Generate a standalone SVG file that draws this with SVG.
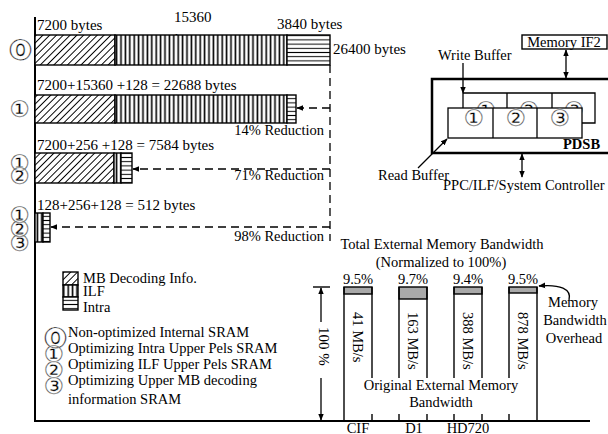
<svg xmlns="http://www.w3.org/2000/svg" width="608" height="434" viewBox="0 0 608 434">
<style>
.t{font-family:"Liberation Serif","Times New Roman",serif;font-size:14.5px;fill:#000}
.tb{font-family:"Liberation Serif","Times New Roman",serif;font-size:15px;fill:#000}
.b{font-weight:bold}
.c{font-family:"DejaVu Sans",sans-serif;font-size:23px;fill:#000;stroke:#fff;stroke-width:0.35px}
.ln{stroke:#000;stroke-width:1.3;fill:none}
.dash{stroke:#000;stroke-width:1.3;fill:none;stroke-dasharray:8 5}
.box{stroke:#000;stroke-width:1.4}
</style>
<defs>
<pattern id="diag" width="4.8" height="10" patternUnits="userSpaceOnUse" patternTransform="rotate(45)">
<rect width="4.8" height="10" fill="#fff"/>
<line x1="2.4" y1="0" x2="2.4" y2="10" stroke="#000" stroke-width="1"/>
</pattern>
<pattern id="vert" width="4.4" height="10" patternUnits="userSpaceOnUse">
<rect width="4.4" height="10" fill="#fff"/>
<line x1="2.2" y1="0" x2="2.2" y2="10" stroke="#000" stroke-width="1.6"/>
</pattern>
<pattern id="horz" width="10" height="4.2" patternUnits="userSpaceOnUse">
<rect width="10" height="4.2" fill="#fff"/>
<line x1="0" y1="2.1" x2="10" y2="2.1" stroke="#000" stroke-width="1"/>
</pattern>
<marker id="ah" viewBox="0 0 10 10" refX="9" refY="5" markerWidth="7" markerHeight="7" orient="auto-start-reverse" markerUnits="userSpaceOnUse">
<path d="M0,1 L10,5 L0,9 Z" fill="#000"/>
</marker>
</defs>
<rect width="608" height="434" fill="#fff"/>

<!-- axes -->
<g id="axes">
<line x1="35" y1="17" x2="35" y2="421" stroke="#000" stroke-width="2"/>
<line x1="34" y1="421" x2="590" y2="421" stroke="#000" stroke-width="2"/>
</g>

<!-- Bar 0 -->
<g id="bar0">
<text class="tb" x="174" y="22">15360</text>
<text class="tb" x="175" y="44">bytes</text>
<text class="tb" x="37" y="30">7200 bytes</text>
<text class="tb" x="277" y="29">3840 bytes</text>
<rect x="35" y="35" width="80" height="30" fill="url(#diag)" class="box"/>
<rect x="115" y="35" width="172" height="30" fill="url(#vert)" class="box"/>
<rect x="287" y="35" width="43" height="30" fill="url(#horz)" class="box"/>
<text class="tb" x="333" y="54">26400 bytes</text>
<text class="c" x="9.2" y="58.4">⓪</text>
</g>

<!-- Bar 1 -->
<g id="bar1">
<text class="tb" x="37" y="90">7200+15360 +128 = 22688 bytes</text>
<rect x="35" y="95" width="80" height="28" fill="url(#diag)" class="box"/>
<rect x="115" y="95" width="172" height="28" fill="url(#vert)" class="box"/>
<rect x="287" y="95" width="9" height="28" fill="url(#horz)" class="box"/>
<text class="c" x="9.2" y="117.4">①</text>
<text class="t" x="324" y="135" text-anchor="end">14% Reduction</text>
</g>

<!-- Bar 2 -->
<g id="bar2">
<text class="tb" x="37" y="150">7200+256 +128 = 7584 bytes</text>
<rect x="35" y="153" width="79" height="30" fill="url(#diag)" class="box"/>
<rect x="114" y="153" width="7" height="30" fill="url(#vert)" class="box"/>
<rect x="121" y="153" width="11" height="30" fill="url(#horz)" class="box"/>
<text class="c" x="9.2" y="170.9">①</text>
<text class="c" x="9.2" y="184.4">②</text>
<text class="t" x="324" y="180" text-anchor="end">71% Reduction</text>
</g>

<!-- Bar 3 -->
<g id="bar3">
<text class="tb" x="37" y="210">128+256+128 = 512 bytes</text>
<rect x="35" y="213" width="8" height="29" fill="url(#vert)" class="box"/>
<rect x="43" y="213" width="7" height="29" fill="url(#horz)" class="box"/>
<text class="c" x="9.2" y="223.4">①</text>
<text class="c" x="9.2" y="237.4">②</text>
<text class="c" x="9.2" y="251.4">③</text>
<text class="t" x="324" y="241" text-anchor="end">98% Reduction</text>
</g>

<!-- PDSB diagram -->
<g id="memif2">
<rect x="522" y="35" width="85" height="14" fill="#fff" stroke="#000" stroke-width="1.4"/>
<text class="t" x="564" y="47" text-anchor="middle">Memory IF2</text>
</g>
<g id="pdsb">
<rect x="432" y="79" width="190" height="74" fill="#fff" stroke="#000" stroke-width="2.5"/>
<polyline class="ln" points="463,93 595,93 595,123 582,123"/>
<line class="ln" x1="507" y1="93" x2="507" y2="108"/>
<line class="ln" x1="552" y1="93" x2="552" y2="108"/>
<text class="c" x="475.6" y="118.2" font-size="20">①</text>
<text class="c" x="518.6" y="118.2" font-size="20">②</text>
<text class="c" x="563.6" y="118.2" font-size="20">③</text>
<rect x="448" y="108" width="134" height="30" fill="#fff" stroke="#000" stroke-width="1.3"/>
<line class="ln" x1="493" y1="108" x2="493" y2="138"/>
<line class="ln" x1="537" y1="108" x2="537" y2="138"/>
<text class="c" x="463.6" y="126.2" font-size="20">①</text>
<text class="c" x="505.6" y="126.2" font-size="20">②</text>
<text class="c" x="549.6" y="126.2" font-size="20">③</text>
<text class="t b" x="563" y="149">PDSB</text>
</g>
<g id="labels-pdsb">
<text class="t" x="438" y="60">Write Buffer</text>
<text class="t" x="378" y="180">Read Buffer</text>
<text class="t" x="443" y="190">PPC/ILF/System Controller</text>
</g>

<!-- bandwidth chart -->
<g id="bw-title">
<text class="t" x="442" y="249" text-anchor="middle">Total External Memory Bandwidth</text>
<text class="t" x="441" y="267" text-anchor="middle">(Normalized to 100%)</text>
</g>
<g id="bw-bars">
<rect x="344" y="287" width="28" height="7" fill="#a9a9a9" class="box"/>
<rect x="399" y="287" width="28" height="12" fill="#a9a9a9" class="box"/>
<rect x="454" y="287" width="28" height="7" fill="#a9a9a9" class="box"/>
<rect x="509" y="287" width="28" height="6" fill="#a9a9a9" class="box"/>
<g stroke="#000" stroke-width="1.4">
<line x1="344" y1="287" x2="344" y2="421"/>
<line x1="372" y1="287" x2="372" y2="421"/>
<line x1="399" y1="287" x2="399" y2="421"/>
<line x1="427" y1="287" x2="427" y2="421"/>
<line x1="454" y1="287" x2="454" y2="421"/>
<line x1="482" y1="287" x2="482" y2="421"/>
<line x1="509" y1="287" x2="509" y2="421"/>
<line x1="537" y1="287" x2="537" y2="421"/>
</g>
<rect x="346" y="378" width="189" height="36" fill="#fff"/>
<text class="t" x="358" y="284" text-anchor="middle">9.5%</text>
<text class="t" x="413" y="284" text-anchor="middle">9.7%</text>
<text class="t" x="468" y="284" text-anchor="middle">9.4%</text>
<text class="t" x="523" y="284" text-anchor="middle">9.5%</text>
<text class="t" transform="translate(358,312) rotate(90)" y="5">41 MB/s</text>
<text class="t" transform="translate(413,312) rotate(90)" y="5">163 MB/s</text>
<text class="t" transform="translate(468,312) rotate(90)" y="5">388 MB/s</text>
<text class="t" transform="translate(523,312) rotate(90)" y="5">878 MB/s</text>
<text class="t" x="441" y="390" text-anchor="middle">Original External Memory</text>
<text class="t" x="441" y="407" text-anchor="middle">Bandwidth</text>
<text class="t" x="358" y="433" text-anchor="middle">CIF</text>
<text class="t" x="414" y="433" text-anchor="middle">D1</text>
<text class="t" x="468" y="433" text-anchor="middle">HD720</text>
</g>
<g id="bw-overhead">
<text class="t" x="573" y="307" text-anchor="middle">Memory</text>
<text class="t" x="575" y="325" text-anchor="middle">Bandwidth</text>
<text class="t" x="574" y="343" text-anchor="middle">Overhead</text>
</g>
<g id="bw-scale">
<line x1="313" y1="287" x2="330" y2="287" stroke="#000" stroke-width="1.4"/>
<text class="tb" transform="translate(324,327) rotate(90)" y="5">100 %</text>
</g>

<!-- legend -->
<g id="legend">
<rect x="63" y="272" width="15" height="13" fill="url(#diag)" class="box"/>
<rect x="63" y="285" width="15" height="12" fill="url(#vert)" class="box"/>
<rect x="63" y="297" width="15" height="13" fill="url(#horz)" class="box"/>
<text class="t" x="83" y="283" font-size="16">MB Decoding Info.</text>
<text class="t" x="83" y="296">ILF</text>
<text class="t" x="83" y="312">Intra</text>
<text class="c" x="43.5" y="345.5" font-size="25">⓪</text>
<text class="c" x="43.5" y="361.5" font-size="25">①</text>
<text class="c" x="43.5" y="377.5" font-size="25">②</text>
<text class="c" x="43.5" y="393.5" font-size="25">③</text>
<text class="t" x="68" y="337">Non-optimized Internal SRAM</text>
<text class="t" x="68" y="353">Optimizing Intra Upper Pels SRAM</text>
<text class="t" x="68" y="369">Optimizing ILF Upper Pels SRAM</text>
<text class="t" x="68" y="385">Optimizing Upper MB decoding</text>
<text class="t" x="68" y="404">information SRAM</text>
</g>

<!-- connectors -->
<g id="connectors">
<line class="dash" x1="330" y1="65" x2="330" y2="241"/>
<line class="dash" x1="330" y1="108" x2="297" y2="108" marker-end="url(#ah)"/>
<line class="dash" x1="330" y1="169" x2="133" y2="169" marker-end="url(#ah)"/>
<line class="dash" x1="330" y1="227" x2="51" y2="227" marker-end="url(#ah)"/>
<line class="ln" x1="566" y1="50" x2="566" y2="78" marker-start="url(#ah)" marker-end="url(#ah)"/>
<line class="ln" x1="522" y1="154" x2="522" y2="177" marker-start="url(#ah)" marker-end="url(#ah)"/>
<line class="ln" x1="463" y1="93" x2="463" y2="108"/>
<line class="ln" x1="463" y1="63" x2="463" y2="93" marker-end="url(#ah)"/>
<line class="ln" x1="418" y1="168" x2="447" y2="139" marker-end="url(#ah)"/>
<path class="ln" d="M569,300 C572,289 560,284 539,286" marker-end="url(#ah)"/>
<line class="ln" x1="321" y1="288" x2="321" y2="322" marker-start="url(#ah)"/>
<line class="ln" x1="321" y1="378" x2="321" y2="420" marker-end="url(#ah)"/>
</g>
</svg>
